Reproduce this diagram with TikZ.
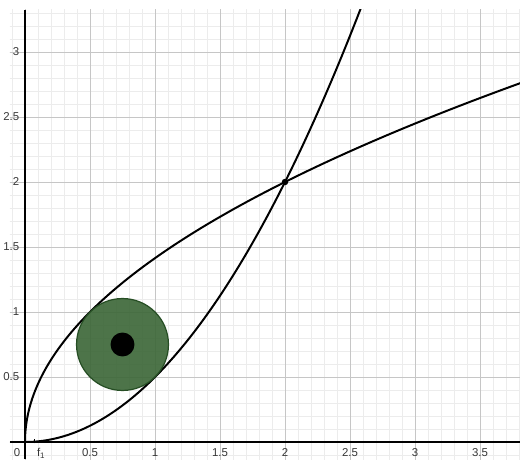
\documentclass[tikz,border=0pt]{standalone}
\usepackage{fontspec}
\setsansfont{Liberation Sans}
\definecolor{discgreen}{RGB}{62,104,58}
\definecolor{discedge}{RGB}{38,78,36}
\definecolor{minorgrid}{RGB}{236,236,236}
\definecolor{majorgrid}{RGB}{198,198,198}
\definecolor{ticklabel}{RGB}{55,55,55}

\begin{document}
\begin{tikzpicture}[x=3cm, y=3cm,
  curve/.style={black, line width=1.3pt, line cap=round},
  axisline/.style={black, line width=0.9pt},
  ticklab/.style={font=\sffamily\fontsize{7.5}{9}\selectfont, text=ticklabel, inner sep=1pt}]

\useasboundingbox (-0.1923,-0.1308) rectangle (3.8077,3.4);

% === GRID ===
\begin{scope}
  \clip (-0.1154,-0.1308) rectangle (3.8077,3.3231);
  \draw[minorgrid, line width=0.4pt, step=0.1] (-0.2,-0.2) grid (3.9,3.4);
  \draw[majorgrid, line width=0.5pt, step=0.5] (-0.2,-0.2) grid (3.9,3.4);

  % Curves: f_1 (y = x^2/2) and y = sqrt(2x)
  \draw[curve, domain=0:2.62, samples=150] plot (\x,{\x*\x/2});
  \draw[curve, domain=0:2.77, samples=150] plot ({\x*\x/2},\x);
\end{scope}

% === AXES ===
\draw[axisline] (-0.1154,0) -- (3.8077,0);
\draw[axisline] (0,-0.1308) -- (0,3.3231);

% Tick labels
\node[ticklab] (orig) at (-0.062,-0.078) {0};
\foreach \v [count=\i] in {0.5,1,1.5,2,2.5,3,3.5}
  \node[ticklab] (xlab\i) at (\v,-0.078) {\v};
\foreach \v [count=\i] in {0.5,1,1.5,2,2.5,3}
  \node[ticklab, anchor=east] (ylab\i) at (-0.03,\v) {\v};

% Curve label
\draw[black, line width=0.5pt] (0.07,-0.01) -- (0.07,0.025);
\node[ticklab] (flab) at (0.125,-0.085) {f\textsubscript{1}};

% Intersection point
\fill[black] (2,2) circle (0.025);

% === DISC ===
\fill[discgreen, opacity=0.92] (0.75,0.75) circle (0.3536);
\draw[discedge, line width=0.8pt] (0.75,0.75) circle (0.3536);
\fill[black] (0.75,0.75) circle (0.092);

\end{tikzpicture}
\end{document}
